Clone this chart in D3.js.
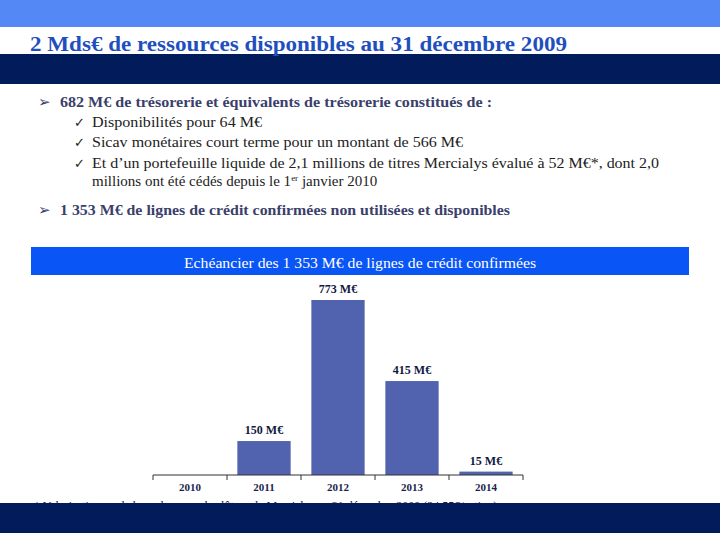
<!DOCTYPE html>
<html><head><meta charset="utf-8">
<script src="https://cdn.jsdelivr.net/npm/d3@7"></script>
<style>body{margin:0;background:#fff}svg{display:block}</style>
</head><body>
<script>
const categories = ["2010","2011","2012","2013","2014"];
const values = [0,150,773,415,15];
const valueLabels = ["","150 M€","773 M€","415 M€","15 M€"];
const title = "2 Mds€ de ressources disponibles au 31 décembre 2009";
const chartTitle = "Echéancier des 1 353 M€ de lignes de crédit confirmées";
const mainBullets = ["682 M€ de trésorerie et équivalents de trésorerie constitués de :",
  "1 353 M€ de lignes de crédit confirmées non utilisées et disponibles"];
const subBullets = ["Disponibilités pour 64 M€",
  "Sicav monétaires court terme pour un montant de 566 M€",
  "Et d’un portefeuille liquide de 2,1 millions de titres Mercialys évalué à 52 M€*, dont 2,0"];
const footnote = "* Valorisation sur la base du cours de clôture de Mercialys au 31 décembre 2009 (24,55€/action)";

const W=720,H=540;
const svg=d3.select("body").append("svg").attr("width",W).attr("height",H);
const serif="Liberation Serif";

// top bands
svg.append("rect").attr("x",0).attr("y",0).attr("width",W).attr("height",27).attr("fill","#5488f5");
svg.append("rect").attr("x",0).attr("y",54).attr("width",W).attr("height",30).attr("fill","#021b5a");
svg.append("text").attr("x",30).attr("y",51).attr("font-family",serif).attr("font-weight","bold")
  .attr("font-size",20).attr("fill","#1f4fbf").attr("textLength",537).attr("lengthAdjust","spacingAndGlyphs").text(title);

// bullets
function mainBullet(y,txt,len){
  svg.append("text").attr("x",38).attr("y",y).attr("font-family","DejaVu Sans").attr("font-size",15).attr("fill","#3b3f6b").text("➢");
  svg.append("text").attr("x",60).attr("y",y).attr("font-family",serif).attr("font-weight","bold").attr("font-size",14)
    .attr("fill","#3b3f6b").attr("textLength",len).attr("lengthAdjust","spacingAndGlyphs").text(txt);
}
function sub(y,txt,len){
  svg.append("text").attr("x",74).attr("y",y).attr("font-family","DejaVu Sans").attr("font-size",13).attr("fill","#222").text("✓");
  svg.append("text").attr("x",92).attr("y",y).attr("font-family",serif).attr("font-size",15)
    .attr("fill","#222").attr("textLength",len).attr("lengthAdjust","spacingAndGlyphs").text(txt);
}
mainBullet(107,mainBullets[0],432);
sub(127,subBullets[0],170);
sub(147,subBullets[1],371);
sub(168,subBullets[2],567);
const l5=svg.append("text").attr("x",92).attr("y",186).attr("font-family",serif).attr("font-size",15).attr("fill","#222");
l5.append("tspan").text("millions ont été cédés depuis le 1");
l5.append("tspan").attr("dy",-5).attr("font-size",9).text("er");
l5.append("tspan").attr("dy",5).text(" janvier 2010");
mainBullet(215,mainBullets[1],450);

// chart header
svg.append("rect").attr("x",31).attr("y",247).attr("width",658).attr("height",28).attr("fill","#0a55f5");
svg.append("text").attr("x",360).attr("y",268).attr("text-anchor","middle").attr("font-family",serif)
  .attr("font-size",14).attr("fill","#fff").attr("textLength",352).attr("lengthAdjust","spacingAndGlyphs").text(chartTitle);

// chart
const x=d3.scaleBand().domain(categories).range([153,523]).paddingInner(0.28).paddingOuter(0.14);
const y=d3.scaleLinear().domain([0,773]).range([475,300]);
const g=svg.append("g");
g.selectAll("rect.bar").data(categories).join("rect").attr("class","bar")
  .attr("x",d=>x(d)).attr("width",x.bandwidth())
  .attr("y",(d,i)=>y(values[i])).attr("height",(d,i)=>y(0)-y(values[i])).attr("fill","#5162ae");
g.selectAll("text.val").data(categories).join("text").attr("class","val")
  .attr("x",d=>x(d)+x.bandwidth()/2).attr("y",(d,i)=>y(values[i])-7)
  .attr("text-anchor","middle").attr("font-family",serif).attr("font-weight","bold").attr("font-size",12)
  .attr("fill","#101840").text((d,i)=>valueLabels[i]);
// axis
const ax=svg.append("g").attr("transform","translate(0,475)");
ax.append("line").attr("x1",153).attr("x2",523).attr("y1",0).attr("y2",0).attr("stroke","#333").attr("stroke-width",1.2);
const step=x.step();
ax.selectAll("line.tk").data(d3.range(categories.length+1)).join("line").attr("class","tk")
  .attr("x1",i=>153+i*step).attr("x2",i=>153+i*step).attr("y1",0).attr("y2",5).attr("stroke","#333");
ax.selectAll("text.cat").data(categories).join("text").attr("class","cat")
  .attr("x",d=>x(d)+x.bandwidth()/2).attr("y",16).attr("text-anchor","middle")
  .attr("font-family",serif).attr("font-weight","bold").attr("font-size",11).attr("fill","#1a1f4d").text(d=>d);

// footnote (partially covered)
svg.append("text").attr("x",34).attr("y",510).attr("font-family",serif).attr("font-size",12).attr("fill","#222").text(footnote);
// bottom band
svg.append("rect").attr("x",0).attr("y",503).attr("width",W).attr("height",30).attr("fill","#021b5a");
</script>
</body></html>
